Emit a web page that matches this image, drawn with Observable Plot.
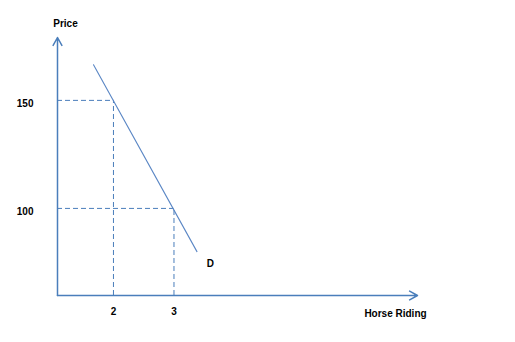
<!DOCTYPE html>
<html>
<head>
<meta charset="utf-8">
<script src="https://cdn.jsdelivr.net/npm/d3@7"></script>
<script src="https://cdn.jsdelivr.net/npm/@observablehq/plot@0.6"></script>
<style>
  html, body { margin: 0; padding: 0; background: #fff; }
  #chart svg { display: block; }
</style>
</head>
<body>
<div id="chart"></div>
<script>
// Data
const quantityTicks = [2, 3];
const priceTicks = [100, 150];
const equilibriumQ = [2, 3];
const equilibriumP = [150, 100];
const demandQ = [1.67, 3.38];
const demandP = [166.5, 80];
const demandLabel = ["D"];
const demandLabelQ = [3.6];
const demandLabelP = [74.5];
const xTitle = "Horse Riding";
const yTitle = "Price";
const xDomain = [1.075, 7.025];
const yDomain = [59.7, 179.1];

const points = equilibriumQ.map((q, i) => ({q, p: equilibriumP[i]}));
const demand = demandQ.map((q, i) => ({q, p: demandP[i]}));
const labels = demandLabel.map((t, i) => ({t, q: demandLabelQ[i], p: demandLabelP[i]}));

const axisColor = "#4a7ebb";
const font = "'Liberation Sans', Arial, sans-serif";

const chart = Plot.plot({
  width: 515,
  height: 342,
  marginLeft: 57,
  marginRight: 98,
  marginTop: 37,
  marginBottom: 47,
  style: {fontFamily: font, fontSize: "10px", fontWeight: "bold", color: "#000", background: "#fff"},
  x: {domain: xDomain},
  y: {domain: yDomain},
  marks: [
    // dashed guides
    Plot.ruleY(points, {y: "p", x1: xDomain[0], x2: "q", stroke: axisColor, strokeWidth: 1, strokeDasharray: "5,3"}),
    Plot.ruleX(points, {x: "q", y1: yDomain[0], y2: "p", stroke: axisColor, strokeWidth: 1, strokeDasharray: "5,3"}),
    // demand curve
    Plot.line(demand, {x: "q", y: "p", stroke: "#5b87c5", strokeWidth: 1.1}),
    Plot.text(labels, {x: "q", y: "p", text: "t", fill: "#000", fontSize: 10, fontWeight: "bold"}),
    // axes with arrows
    Plot.arrow([{x1: xDomain[0], y1: yDomain[0], x2: xDomain[0], y2: yDomain[1]}],
      {x1: "x1", y1: "y1", x2: "x2", y2: "y2", stroke: axisColor, strokeWidth: 1.5, headLength: 9, headAngle: 58}),
    Plot.arrow([{x1: xDomain[0], y1: yDomain[0], x2: xDomain[1], y2: yDomain[0]}],
      {x1: "x1", y1: "y1", x2: "x2", y2: "y2", stroke: axisColor, strokeWidth: 1.5, headLength: 9, headAngle: 58}),
    Plot.axisY({ticks: priceTicks, tickFormat: d => String(d), tickSize: 0, tickPadding: 24, dy: 3, label: null, fontWeight: "bold", fontSize: 10}),
    Plot.axisX({ticks: quantityTicks, tickFormat: d => String(d), tickSize: 0, tickPadding: 12, label: null, fontWeight: "bold", fontSize: 10}),
    Plot.text([yTitle], {frameAnchor: "top-left", dx: 8, dy: -18, textAnchor: "middle", fill: "#000", fontSize: 10, fontWeight: "bold"}),
    Plot.text([xTitle], {frameAnchor: "bottom-right", dx: -22, dy: 21, textAnchor: "middle", fill: "#000", fontSize: 10, fontWeight: "bold"})
  ]
});
document.getElementById("chart").appendChild(chart);
</script>
</body>
</html>
